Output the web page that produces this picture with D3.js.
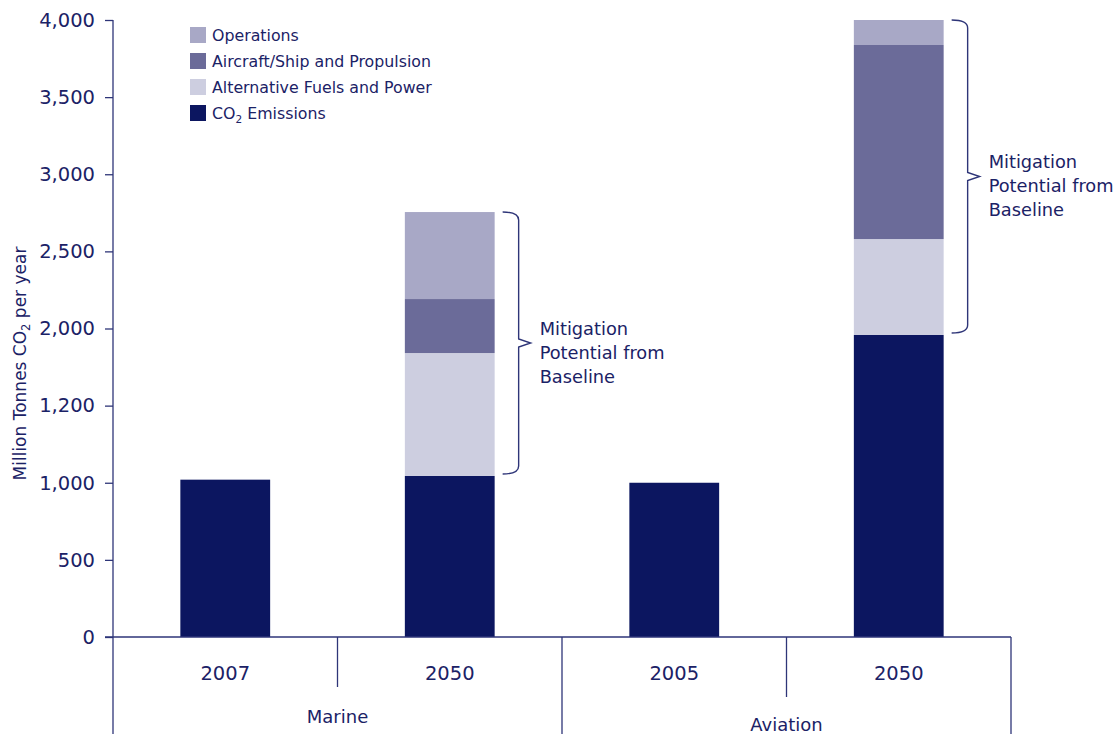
<!DOCTYPE html>
<html><head><meta charset="utf-8">
<script src="https://cdn.jsdelivr.net/npm/d3@7"></script>
<style>body{margin:0;background:#fff;} svg{display:block;} text{font-family:"DejaVu Sans",Arial,sans-serif;fill:#1b2266;}</style>
</head><body>
<svg id="c" width="1116" height="734"></svg>
<script>
const categories = ["2007", "2050", "2005", "2050b"];
const categoryLabels = ["2007", "2050", "2005", "2050"];
const groups = ["Marine", "Aviation"];
const seriesKeys = ["co2", "alt", "aircraft", "ops"];
const seriesNames = ["CO2 Emissions", "Alternative Fuels and Power", "Aircraft/Ship and Propulsion", "Operations"];
const co2Values = [1020, 1044, 1000, 1958];
const altValues = [0, 797, 0, 622];
const aircraftValues = [0, 350, 0, 1258];
const opsValues = [0, 564, 0, 162];
const yTickValues = [0, 500, 1000, 1500, 2000, 2500, 3000, 3500, 4000];
const yTickLabels = ["0", "500", "1,000", "1,200", "2,000", "2,500", "3,000", "3,500", "4,000"];
const colors = {co2: "#0c1660", alt: "#cdcee0", aircraft: "#6b6b99", ops: "#a8a8c6"};
const ink = "#1b2266";
const lineColor = "#2e3578";
const font = "DejaVu Sans, Arial, sans-serif";

const svg = d3.select("#c");
const x0 = 113, x1 = 1011, yTop = 20, yBase = 637;
const y = d3.scaleLinear().domain([0, 4000]).range([yBase, yTop]);
const x = d3.scaleBand().domain(categories).range([x0, x1]).paddingInner(0.6).paddingOuter(0.3);

const table = categories.map((c, i) => ({cat: c, co2: co2Values[i], alt: altValues[i], aircraft: aircraftValues[i], ops: opsValues[i]}));
const stacked = d3.stack().keys(seriesKeys)(table);

svg.append("g").selectAll("g").data(stacked).join("g")
  .attr("fill", d => colors[d.key])
  .selectAll("rect").data(d => d.filter(p => p[1] > p[0])).join("rect")
  .attr("x", d => x(d.data.cat))
  .attr("width", x.bandwidth())
  .attr("y", d => y(d[1]))
  .attr("height", d => y(d[0]) - y(d[1]));

// Y axis
const yAxis = d3.axisLeft(y).tickValues(yTickValues).tickFormat((d, i) => yTickLabels[i]).tickSize(8).tickPadding(10);
const ga = svg.append("g").attr("transform", `translate(${x0},0)`).call(yAxis);
ga.select(".domain").remove();
ga.selectAll(".tick line").attr("stroke", lineColor).attr("stroke-width", 1.3);
ga.selectAll(".tick text").attr("font-size", 19.5).attr("fill", ink).attr("font-family", font);
svg.append("line").attr("x1", x0).attr("x2", x0).attr("y1", yTop).attr("y2", 734).attr("stroke", lineColor).attr("stroke-width", 1.3);

// baseline
svg.append("line").attr("x1", x0 - 8).attr("x2", x1).attr("y1", yBase).attr("y2", yBase).attr("stroke", lineColor).attr("stroke-width", 1.3);

// category separators
const step = x.step();
const sepBottoms = [687, 734, 697, 734];
[1, 2, 3, 4].forEach((k, i) => {
  const sx = x0 + step * k;
  svg.append("line").attr("x1", sx).attr("x2", sx).attr("y1", yBase).attr("y2", sepBottoms[i]).attr("stroke", lineColor).attr("stroke-width", 1.3);
});

// category labels
categories.forEach((c, i) => {
  svg.append("text").attr("x", x(c) + x.bandwidth() / 2).attr("y", 680).attr("text-anchor", "middle").attr("font-size", 19.5).text(categoryLabels[i]);
});
const groupY = [723, 731];
groups.forEach((g, i) => {
  svg.append("text").attr("x", x0 + step * (2 * i + 1)).attr("y", groupY[i]).attr("text-anchor", "middle").attr("font-size", 18).text(g);
});

// y-axis title
const yt = svg.append("text").attr("transform", `translate(26,${(yTop + yBase) / 2 + 35}) rotate(-90)`).attr("text-anchor", "middle").attr("font-size", 17);
yt.append("tspan").text("Million Tonnes CO");
yt.append("tspan").attr("font-size", 11.5).attr("dy", 4).text("2");
yt.append("tspan").attr("dy", -4).text(" per year");

// legend
const legendOrder = ["ops", "aircraft", "alt", "co2"];
legendOrder.forEach((k, i) => {
  const ly = 27 + i * 26;
  svg.append("rect").attr("x", 190).attr("y", ly).attr("width", 16).attr("height", 16).attr("fill", colors[k]);
  const t = svg.append("text").attr("x", 212).attr("y", ly + 14).attr("font-size", 15.8);
  const name = seriesNames[seriesKeys.indexOf(k)];
  if (k === "co2") {
    t.append("tspan").text("CO");
    t.append("tspan").attr("font-size", 10.5).attr("dy", 4).text("2");
    t.append("tspan").attr("dy", -4).text(" Emissions");
  } else t.text(name);
});

// braces
function brace(bx, top, bottom, w) {
  const mid = (top + bottom) / 2;
  const r = 6;
  const p = d3.path();
  p.moveTo(bx, top);
  p.quadraticCurveTo(bx + w, top, bx + w, top + r + 2);
  p.lineTo(bx + w, mid - 4);
  p.lineTo(bx + w + 12, mid);
  p.lineTo(bx + w, mid + 4);
  p.lineTo(bx + w, bottom - r - 2);
  p.quadraticCurveTo(bx + w, bottom, bx, bottom);
  return p.toString();
}
const braceTargets = [1, 3];
braceTargets.forEach(i => {
  const c = categories[i];
  const total = co2Values[i] + altValues[i] + aircraftValues[i] + opsValues[i];
  const top = y(total), bottom = y(co2Values[i]) - 2;
  const bx = x(c) + x.bandwidth() + 8;
  svg.append("path").attr("d", brace(bx, top, bottom, 16)).attr("fill", "none").attr("stroke", lineColor).attr("stroke-width", 1.4);
  const mid = (top + bottom) / 2;
  const lines = ["Mitigation", "Potential from", "Baseline"];
  const tx = bx + 16 + 21;
  const t = svg.append("text").attr("font-size", 17.8);
  lines.forEach((l, j) => t.append("tspan").attr("x", tx).attr("y", mid + 4 + (j - 0.5) * 24).text(l));
});
</script>
</body></html>
